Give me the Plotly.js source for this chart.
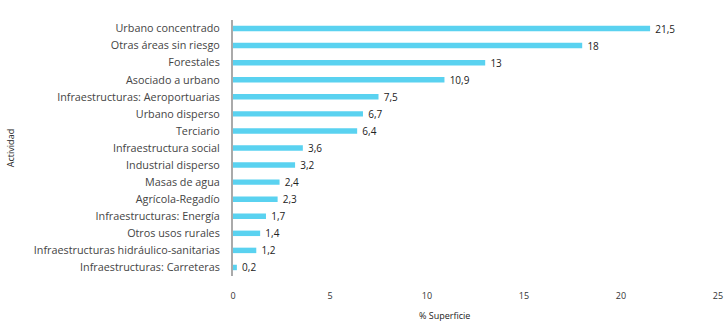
<!DOCTYPE html>
<html><head><meta charset="utf-8">
<script src="https://cdn.plot.ly/plotly-3.0.1.min.js"></script>
<style>body{margin:0;background:#fff}#c{width:726px;height:323px}</style>
</head><body><div id="c"></div>
<script>
const categories = ["Urbano concentrado","Otras áreas sin riesgo","Forestales","Asociado a urbano","Infraestructuras: Aeroportuarias","Urbano disperso","Terciario","Infraestructura social","Industrial disperso","Masas de agua","Agrícola-Regadío","Infraestructuras: Energía","Otros usos rurales","Infraestructuras hidráulico-sanitarias","Infraestructuras: Carreteras"];
const values = [21.5,18,13,10.9,7.5,6.7,6.4,3.6,3.2,2.4,2.3,1.7,1.4,1.2,0.2];
const xTicks = [0,5,10,15,20,25];

const F = "Open Sans, sans-serif";
Plotly.newPlot("c", [{
  type:"bar", orientation:"h",
  y: categories, x: values,
  width: 0.32,
  marker:{color:"#5ad2f0"},
  text: values.map(v => "\u00a0\u00a0" + String(v).replace(".", ",")),
  textposition:"outside", cliponaxis:false, constraintext:"none",
  textfont:{family:F, size:10, color:"#222"},
  hoverinfo:"none"
}], {
  width:726, height:323,
  margin:{l:233, r:8, t:20, b:47},
  paper_bgcolor:"#fff", plot_bgcolor:"#fff",
  font:{family:F, size:10, color:"#333"},
  showlegend:false,
  xaxis:{range:[0,25], tickvals:xTicks, ticktext:xTicks.map(String), showgrid:false, zeroline:false,
    showline:false, ticks:"outside", ticklen:11, tickcolor:"rgba(0,0,0,0)",
    tickfont:{family:F, size:9, color:"#333"}},
  yaxis:{autorange:"reversed", showgrid:false, zeroline:false, showline:true, linecolor:"#aaa", linewidth:2,
    ticks:"outside", ticklen:9, tickcolor:"rgba(0,0,0,0)",
    tickfont:{family:F, size:10.8, color:"#444"},
    title:{text:"Actividad", font:{family:F, size:9, color:"#222"}, standoff:18}},
  annotations:[{text:"% Superficie", xref:"paper", yref:"paper", x:0.437, y:-0.12, yanchor:"top",
    showarrow:false, font:{family:F, size:9, color:"#222"}}]
}, {staticPlot:true});
</script></body></html>
